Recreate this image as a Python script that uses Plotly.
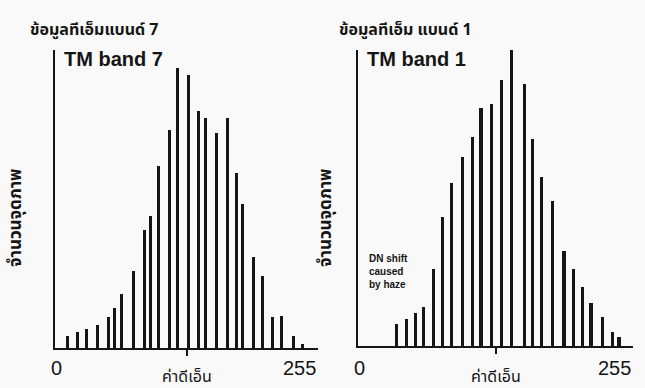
import plotly.graph_objects as go

# ---- data ----
band7_dn = [12, 22, 31, 41, 52, 58, 64, 76, 87, 93, 100, 111, 119, 129, 139, 146,
            157, 167, 176, 182, 192, 201, 211, 220, 231, 240]
band7_count = [12, 16, 19, 23, 31, 40, 54, 77, 118, 132, 182, 218, 280, 273, 237, 230,
               215, 230, 175, 144, 91, 72, 31, 32, 12, 4]

band1_dn = [36, 45, 53, 61, 70, 78, 87, 97, 106, 114, 124, 133, 142, 154, 162, 170,
            180, 191, 200, 208, 216, 227, 236, 242]
band1_count = [22, 27, 33, 39, 77, 129, 163, 189, 209, 238, 242, 266, 302, 262, 207, 169,
               145, 95, 77, 59, 43, 29, 14, 9]

panel_titles = ["ข้อมูลทีเอ็มแบนด์ 7", "ข้อมูลทีเอ็ม แบนด์ 1"]
band_labels = ["TM band 7", "TM band 1"]
x_tick_labels = ["0", "255"]
x_title = "ค่าดีเอ็น"
y_title = "จำนวนจุดภาพ"
haze_note = "DN shift<br>caused<br>by haze"

W, H = 645, 388
BAR = "#151515"
THAI = "Noto Sans Thai, Loma, Garuda, Tlwg Typo, DejaVu Sans, sans-serif"
LAT = "Liberation Sans, Arial, sans-serif"

fig = go.Figure()
fig.add_trace(go.Bar(x=band7_dn, y=band7_count, width=2.9, marker=dict(color=BAR, line=dict(width=0)),
                     xaxis="x", yaxis="y", showlegend=False))
fig.add_trace(go.Bar(x=band1_dn, y=band1_count, width=2.9, marker=dict(color=BAR, line=dict(width=0)),
                     xaxis="x2", yaxis="y2", showlegend=False))

xdom1 = [55 / W, 318 / W]
xdom2 = [358 / W, 633 / W]
ydom1 = [1 - 348 / H, 1 - 50 / H]
ydom2 = [1 - 346 / H, 1 - 50 / H]

xcommon = dict(range=[0, 255], showgrid=False, zeroline=False, showline=True, linecolor=BAR,
               linewidth=2, tickvals=[127.5], ticks="outside", ticklen=6, tickwidth=2,
               tickcolor=BAR, showticklabels=False, fixedrange=True)
ycommon = dict(showgrid=False, zeroline=False, showline=True, linecolor=BAR, linewidth=2,
               showticklabels=False, ticks="", fixedrange=True)

fig.update_layout(
    width=W, height=H,
    margin=dict(l=0, r=0, t=0, b=0),
    paper_bgcolor="#f9f9f9", plot_bgcolor="rgba(0,0,0,0)",
    bargap=0,
    xaxis=dict(domain=xdom1, anchor="y", **xcommon),
    yaxis=dict(domain=ydom1, anchor="x", range=[0, 298], **ycommon),
    xaxis2=dict(domain=xdom2, anchor="y2", **xcommon),
    yaxis2=dict(domain=ydom2, anchor="x2", range=[0, 296], **ycommon),
)

ann = []
panels = [("x", xdom1, ydom1), ("x2", xdom2, ydom2)]
title_x = [28, 337]
ytitle_x = [16, 326]
for i, (xr, xd, yd) in enumerate(panels):
    # panel title (Thai)
    ann.append(dict(text="<b>" + panel_titles[i] + "</b>", xref="paper", yref="paper",
                    x=title_x[i] / W, y=1 - 30 / H, xanchor="left", yanchor="middle",
                    showarrow=False, font=dict(family=THAI, size=16, color=BAR)))
    # band label
    ann.append(dict(text="<b>" + band_labels[i] + "</b>", xref="paper", yref="paper",
                    x=(xd[0] * W + 7) / W, y=1 - 59 / H, xanchor="left", yanchor="middle",
                    showarrow=False, font=dict(family=LAT, size=20, color=BAR)))
    # tick labels 0 and 255
    ann.append(dict(text=x_tick_labels[0], xref=xr, yref="paper", x=1, y=1 - 368 / H,
                    xanchor="center", yanchor="middle", showarrow=False,
                    font=dict(family=LAT, size=20, color=BAR)))
    ann.append(dict(text=x_tick_labels[1], xref=xr, yref="paper", x=255, y=1 - 368 / H,
                    xanchor="right", yanchor="middle", showarrow=False,
                    font=dict(family=LAT, size=20, color=BAR)))
    # x title
    ann.append(dict(text=x_title, xref=xr, yref="paper", x=127.5, y=1 - 377 / H,
                    xanchor="center", yanchor="middle", showarrow=False,
                    font=dict(family=THAI, size=16, color=BAR)))
    # y title
    ann.append(dict(text="<b>" + y_title + "</b>", xref="paper", yref="paper",
                    x=ytitle_x[i] / W, y=1 - 218 / H, xanchor="center", yanchor="middle",
                    textangle=-90, showarrow=False, font=dict(family=THAI, size=17, color=BAR)))

ann.append(dict(text="<b>" + haze_note + "</b>", xref="paper", yref="paper",
                x=367 / W, y=1 - 271 / H, xanchor="left", yanchor="middle", align="left",
                showarrow=False, font=dict(family=LAT, size=10, color=BAR)))
fig.update_layout(annotations=ann)

fig.write_html("out.html")
